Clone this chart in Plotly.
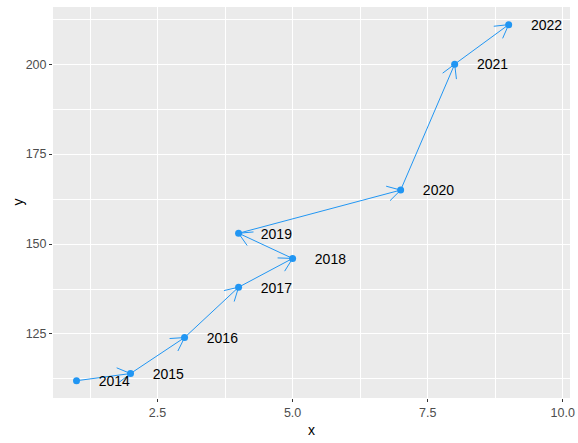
import math
import plotly.graph_objects as go

# データ
years = ["2014", "2015", "2016", "2017", "2018", "2019", "2020", "2021", "2022"]
x_vals = [1, 2, 3, 4, 5, 4, 7, 8, 9]
y_vals = [112, 114, 124, 138, 146, 153, 165, 200, 211]

W, H = 578, 443
ml, mr, mt, mb = 53, 8, 7, 45
x_range = [0.565, 10.135]
y_range = [107.2, 215.9]
blue = "#2196F3"

# ピクセル換算 (矢じりの向きと長さ用)
sx = (W - ml - mr) / (x_range[1] - x_range[0])
sy = (H - mt - mb) / (y_range[1] - y_range[0])
head_len, head_ang = 15, math.radians(30)

wx, wy = [], []
for i in range(len(x_vals) - 1):
    x0, y0, x1, y1 = x_vals[i], y_vals[i], x_vals[i + 1], y_vals[i + 1]
    dx, dy = (x1 - x0) * sx, (y1 - y0) * sy
    ang = math.atan2(dy, dx)
    for s in (1, -1):
        a = ang + s * head_ang
        wx += [x1 - head_len * math.cos(a) / sx, x1, None]
        wy += [y1 - head_len * math.sin(a) / sy, y1, None]

fig = go.Figure()
fig.add_trace(go.Scatter(x=x_vals, y=y_vals, mode="lines",
                         line=dict(color=blue, width=1), hoverinfo="skip"))
fig.add_trace(go.Scatter(x=wx, y=wy, mode="lines",
                         line=dict(color=blue, width=1), hoverinfo="skip"))
fig.add_trace(go.Scatter(x=x_vals, y=y_vals, mode="markers",
                         marker=dict(color=blue, size=7)))
fig.add_trace(go.Scatter(x=[v + 0.7 for v in x_vals], y=[v - 0.5 for v in y_vals],
                         mode="text", text=years,
                         textfont=dict(family="Liberation Sans", size=14, color="black")))

axis_common = dict(showline=False, zeroline=False, gridcolor="white", gridwidth=1.3,
                   automargin=False,
                   ticks="outside", ticklen=3, tickcolor="#333333", tickwidth=1,
                   tickfont=dict(family="Liberation Sans", size=12.5, color="#4d4d4d"),
                   minor=dict(showgrid=True, gridcolor="white", gridwidth=0.8))
fig.update_xaxes(range=x_range, tickvals=[2.5, 5.0, 7.5, 10.0],
                 ticktext=["2.5", "5.0", "7.5", "10.0"],
                 minor_tickvals=[1.25, 3.75, 6.25, 8.75],
                 title=dict(text="x", font=dict(family="Liberation Sans", size=14, color="black"),
                            standoff=6),
                 **axis_common)
fig.update_yaxes(range=y_range, tickvals=[125, 150, 175, 200],
                 minor_tickvals=[112.5, 137.5, 162.5, 187.5, 212.5],
                 **axis_common)
# y軸タイトル (位置調整のため注釈で)
fig.add_annotation(text="y", xref="paper", yref="paper", x=0, y=0.5,
                   xanchor="center", yanchor="middle", xshift=-36, textangle=-90,
                   showarrow=False,
                   font=dict(family="Liberation Sans", size=14, color="black"))
fig.update_layout(width=W, height=H, showlegend=False,
                  margin=dict(l=ml, r=mr, t=mt, b=mb, autoexpand=False),
                  plot_bgcolor="#EBEBEB", paper_bgcolor="white")
fig.write_html("out.html", config={"displayModeBar": False},
               post_script="document.body.style.margin='0';")
